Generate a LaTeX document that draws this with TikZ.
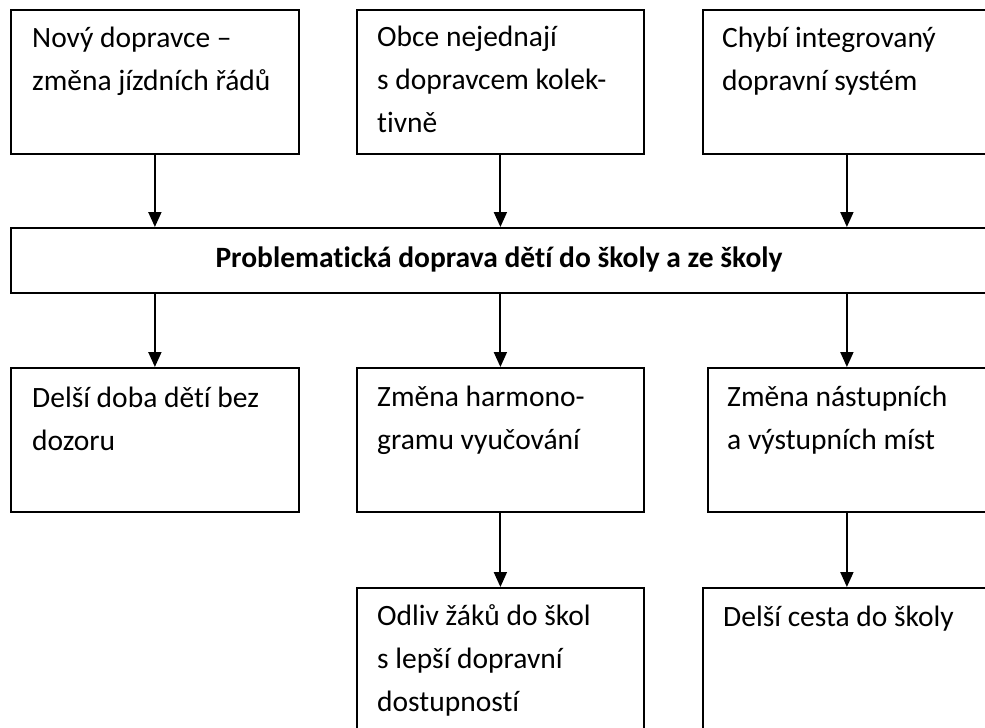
\documentclass[tikz,border=0pt]{standalone}
\usepackage{fontspec}
\setmainfont{Carlito}[Ligatures={NoCommon}]
\usetikzlibrary{arrows.meta}
\begin{document}
\begin{tikzpicture}[x=1pt,y=-1pt,
  box/.style={draw=black,line width=1.8pt,rectangle,inner sep=0pt,anchor=north west},
  txt/.style={anchor=base west,inner sep=0pt,text width=275pt,align=flush left,font=\fontsize{29.5}{43}\selectfont},
  arr/.style={draw=black,line width=1.9pt,-{Triangle[width=13pt,length=15pt]}}]
\useasboundingbox (0,0) rectangle (985,728);
\fill[white] (0,0) rectangle (985,728);
\clip (0,0) rectangle (985,728);
% top row
\node[box,minimum width=288pt,minimum height=144pt] (t1) at (10,9) {};
\node[box,minimum width=287pt,minimum height=144pt] (t2) at (356,9) {};
\node[box,minimum width=288pt,minimum height=144pt] (t3) at (702,9) {};
% bar
\node[box,minimum width=980pt,minimum height=65pt] (bar) at (10,227) {};
% middle row
\node[box,minimum width=288pt,minimum height=144pt] (m1) at (10,367) {};
\node[box,minimum width=287pt,minimum height=144pt] (m2) at (356,367) {};
\node[box,minimum width=278pt,minimum height=144pt] (m3) at (707,367) {};
% bottom row
\node[box,minimum width=287pt,minimum height=180pt] (b2) at (356,587) {};
\node[box,minimum width=288pt,minimum height=180pt] (b3) at (702,587) {};
% texts
\node[txt] (t1t) at ([shift={(22,38)}]t1.north west) {Nový dopravce –\\změna jízdních řádů};
\node[txt] (t2t) at ([shift={(21,37)}]t2.north west) {Obce nejednají\\s dopravcem kolek-\\tivně};
\node[txt] (t3t) at ([shift={(20,38)}]t3.north west) {Chybí integrovaný\\dopravní systém};
\node[anchor=base,inner sep=0pt,font=\bfseries\fontsize{29.5}{43}\selectfont] (bart) at (499,267) {Problematická doprava dětí do školy a ze školy};
\node[txt] (m1t) at ([shift={(22,40)}]m1.north west) {Delší doba dětí bez\\dozoru};
\node[txt] (m2t) at ([shift={(21,39)}]m2.north west) {Změna harmono-\\gramu vyučování};
\node[txt] (m3t) at ([shift={(20,39)}]m3.north west) {Změna nástupních\\a výstupních míst};
\node[txt] (b2t) at ([shift={(21,38)}]b2.north west) {Odliv žáků do škol\\s lepší dopravní\\dostupností};
\node[txt] (b3t) at ([shift={(21,39)}]b3.north west) {Delší cesta do školy};
% arrows
\draw[arr] (t1.south) -- (t1.south |- bar.north);
\draw[arr] (t2.south) -- (t2.south |- bar.north);
\draw[arr] (t3.south) -- (t3.south |- bar.north);
\draw[arr] (m1.north |- bar.south) -- (m1.north);
\draw[arr] (m2.north |- bar.south) -- (m2.north);
\draw[arr] (m3.north |- bar.south) -- (m3.north);
\draw[arr] (m2.south) -- (b2.north);
\draw[arr] (m3.south) -- (b3.north);
\end{tikzpicture}
\end{document}
